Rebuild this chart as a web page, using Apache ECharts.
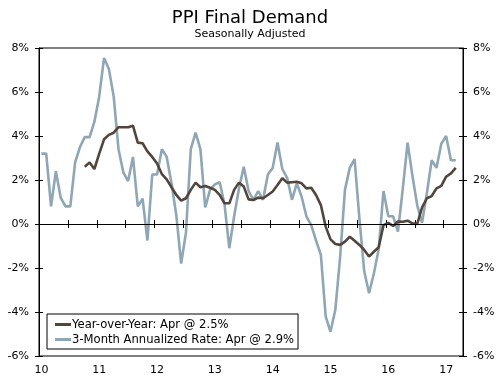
<!DOCTYPE html>
<html>
<head>
<meta charset="utf-8">
<script src="https://cdn.jsdelivr.net/npm/echarts@6/dist/echarts.min.js"></script>
<style>
  html, body { margin: 0; padding: 0; background: #fff; }
  #chart { width: 500px; height: 378px; }
</style>
</head>
<body>
<div id="chart"></div>
<script>
// Months Jan 2010 .. Apr 2017 (axis categories)
const months = [];
for (let y = 2010; y <= 2017; y++) {
  for (let m = 1; m <= 12; m++) {
    if (y === 2017 && m > 4) break;
    months.push(y + '-' + String(m).padStart(2, '0'));
  }
}

// Year-over-Year (%), first values not available
const yoy = [
  null, null, null, null, null, null, null, null, null, 2.6,
  2.8, 2.5, 3.2, 3.85, 4.05, 4.15, 4.4, 4.4, 4.4, 4.47,
  3.7, 3.67, 3.3, 3.05, 2.75, 2.27, 2.03, 1.67, 1.32, 1.06,
  1.17, 1.55, 1.88, 1.67, 1.73, 1.65, 1.55, 1.32, 0.94, 0.94,
  1.55, 1.88, 1.7, 1.12, 1.09, 1.2, 1.17, 1.32, 1.48, 1.77,
  2.08, 1.88, 1.9, 1.92, 1.85, 1.62, 1.65, 1.32, 0.86, -0.12,
  -0.7, -0.91, -0.95, -0.8, -0.58, -0.76, -0.95, -1.18, -1.48, -1.26,
  -1.06, -0.05, 0.05, -0.09, 0.11, 0.1, 0.15, 0.03, 0.0, 0.75,
  1.17, 1.27, 1.62, 1.73, 2.15, 2.3, 2.55
];

// 3-Month Annualized Rate (%)
const threeMonth = [
  3.2, 3.2, 0.8, 2.4, 1.2, 0.8, 0.8, 2.8, 3.5, 3.95,
  3.95, 4.65, 5.8, 7.55, 7.05, 5.8, 3.4, 2.35, 1.95, 3.05,
  0.8, 1.15, -0.75, 2.25, 2.25, 3.4, 3.05, 1.85, 0.4, -1.8,
  -0.4, 3.4, 4.15, 3.4, 0.75, 1.55, 1.8, 1.9, 0.9, -1.1,
  0.35, 1.6, 2.6, 1.5, 1.1, 1.5, 1.1, 2.25, 2.55, 3.7,
  2.5, 2.1, 1.1, 1.85, 1.25, 0.35, -0.05, -0.75, -1.4, -4.2,
  -4.9, -3.9, -1.5, 1.55, 2.55, 2.95, 0.25, -2.15, -3.15, -2.25,
  -1.15, 1.5, 0.35, 0.35, -0.35, 1.6, 3.7, 2.2, 0.85, 0.05,
  1.4, 2.9, 2.55, 3.65, 4.0, 2.9, 2.9
];

const yTicks = [-6, -4, -2, 0, 2, 4, 6, 8];
const seriesNames = ['Year-over-Year: Apr @ 2.5%', '3-Month Annualized Rate: Apr @ 2.9%'];
const titleText = 'PPI Final Demand';
const subtitleText = 'Seasonally Adjusted';

const FONT = 'DejaVu Sans';
const chart = echarts.init(document.getElementById('chart'), null, { renderer: 'canvas' });

const yMin = yTicks[0], yMax = yTicks[yTicks.length - 1], yStep = yTicks[1] - yTicks[0];

function xAx(inside, showLabel) {
  return {
    type: 'category', data: months, boundaryGap: true, position: 'bottom',
    axisLine: { show: !inside, lineStyle: { color: '#000', width: 1 } },
    axisTick: { show: true, inside: inside, length: 4, interval: 5, lineStyle: { color: '#000', width: 1 } },
    axisLabel: {
      show: showLabel, interval: 11, margin: 9, color: '#000',
      fontFamily: FONT, fontSize: 11,
      formatter: v => v.slice(2, 4)
    },
    splitLine: { show: false }
  };
}
function yAx(pos, inside, showLabel) {
  return {
    type: 'value', position: pos, min: yMin, max: yMax, interval: yStep,
    axisLine: { show: !inside, lineStyle: { color: '#000', width: 1 } },
    axisTick: { show: true, inside: inside, length: 4, lineStyle: { color: '#000', width: 1 } },
    axisLabel: {
      show: showLabel, margin: 10, color: '#000', fontFamily: FONT, fontSize: 11,
      formatter: v => v + '%'
    },
    splitLine: { show: false }
  };
}

chart.setOption({
  animation: false,
  backgroundColor: '#fff',
  title: {
    text: titleText, subtext: subtitleText, left: 'center', top: 4, itemGap: 2,
    textStyle: { fontFamily: FONT, fontSize: 18, fontWeight: 'normal', color: '#000' },
    subtextStyle: { fontFamily: FONT, fontSize: 11, color: '#000' }
  },
  grid: {
    left: 39, right: 37, top: 48, bottom: 22, containLabel: false,
    show: true, borderColor: '#000', borderWidth: 1, backgroundColor: 'transparent'
  },
  legend: {
    orient: 'vertical', left: 47, top: 314,
    padding: [4, 4, 3, 8], itemGap: 2, itemWidth: 16, itemHeight: 3,
    borderColor: '#000', borderWidth: 1, backgroundColor: '#fff',
    icon: 'rect',
    textStyle: { fontFamily: FONT, fontSize: 11.6, color: '#000', lineHeight: 13, padding: [0, 0, 0, -4] },
    data: seriesNames
  },
  xAxis: [xAx(false, true), xAx(true, false)],
  yAxis: [yAx('left', false, true), yAx('left', true, false), yAx('right', false, true), yAx('right', true, false)],
  series: [
    {
      name: seriesNames[1], type: 'line', data: threeMonth, xAxisIndex: 0, yAxisIndex: 0,
      showSymbol: false, symbol: 'none', smooth: false,
      lineStyle: { color: '#8fa6b5', width: 2.6 }, itemStyle: { color: '#8fa6b5' },
      z: 2,
      markLine: {
        silent: true, symbol: ['none', 'none'], label: { show: false },
        lineStyle: { color: '#000', width: 1, type: 'solid' },
        data: [{ yAxis: 0 }]
      }
    },
    {
      name: seriesNames[0], type: 'line', data: yoy, xAxisIndex: 0, yAxisIndex: 0,
      showSymbol: false, symbol: 'none', smooth: false, connectNulls: false,
      lineStyle: { color: '#52463c', width: 2.6 }, itemStyle: { color: '#52463c' },
      z: 3
    }
  ]
});
</script>
</body>
</html>
